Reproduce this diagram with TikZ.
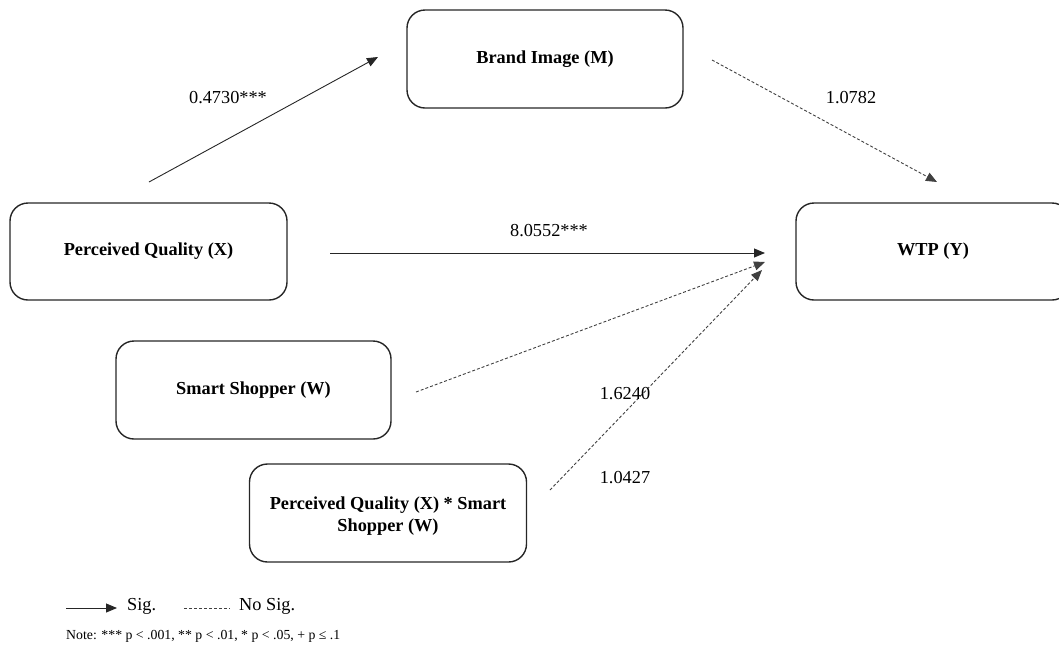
\documentclass[tikz,border=0pt]{standalone}
\usepackage{fontspec}
\setmainfont{Liberation Serif}
\usetikzlibrary{arrows.meta}
\begin{document}
\begin{tikzpicture}[x=1pt,y=-1pt,
  box/.style={draw=black!85,line width=1.4pt,rounded corners=18pt,align=center,
    font=\fontsize{18.3}{22}\selectfont\bfseries,inner sep=0pt},
  sigarrow/.style={line width=0.9pt,draw=black!85,-{Triangle[length=11pt,width=9pt]}},
  nsline/.style={line width=0.9pt,draw=black!75,dash pattern=on 3pt off 2pt},
  nsarrow/.style={nsline,-{Triangle[length=11pt,width=9pt]}},
  lbl/.style={font=\fontsize{18.3}{21}\selectfont,inner sep=0pt},
  note/.style={font=\fontsize{13.8}{16}\selectfont,inner sep=0pt,anchor=west}]
\useasboundingbox (0,0) rectangle (1059,646);
\begin{scope}
\clip (0,0) rectangle (1059,646);
\node[box,minimum width=276pt,minimum height=98pt] (M) at (545,59) {Brand Image (M)};
\node[box,minimum width=277pt,minimum height=97pt] (X) at (148.5,251.5) {Perceived Quality (X)};
\node[box,minimum width=274pt,minimum height=97pt] (Y) at (933,251.5) {WTP (Y)};
\node[box,minimum width=275pt,minimum height=98pt] (W) at (253.5,390) {Smart Shopper (W)};
\node[box,minimum width=277pt,minimum height=98pt] (XW) at (388,513) {};
\node[font=\fontsize{18.3}{22}\selectfont\bfseries,align=center,inner sep=0pt] (XWt) at (388,516) {Perceived Quality (X) * Smart\\Shopper (W)};
\end{scope}

\coordinate (xm1) at (149,182);
\coordinate (xm2) at (378,57);
\coordinate (my1) at (712,60);
\coordinate (my2) at (937,182);
\coordinate (xy1) at (330,253);
\coordinate (xy2) at (765,253);
\coordinate (wy1) at (416,392);
\coordinate (wy2) at (765,262);
\coordinate (iy1) at (550,490);
\coordinate (iy2) at (762,270);

\draw[sigarrow] (xm1) -- (xm2);
\draw[nsarrow] (my1) -- (my2);
\draw[sigarrow] (xy1) -- (xy2);
\draw[nsarrow] (wy1) -- (wy2);
\draw[nsarrow] (iy1) -- (iy2);

\node[lbl] (l1) at (228,98) {0.4730***};
\node[lbl] (l2) at (851,98) {1.0782};
\node[lbl] (l3) at (549,231) {8.0552***};
\node[lbl] (l4) at (625,394) {1.6240};
\node[lbl] (l5) at (625,478) {1.0427};

\coordinate (s1) at (66,608);
\coordinate (s2) at (117,608);
\draw[sigarrow] (s1) -- (s2);
\node[lbl,anchor=west] (sig) at (127,606) {Sig.};
\coordinate (n1) at (184,608);
\coordinate (n2) at (230,608);
\draw[nsline] (n1) -- (n2);
\node[lbl,anchor=west] (nosig) at (239,606) {No Sig.};
\node[note] (nt) at (66,636) {Note: *** p < .001, ** p < .01, * p < .05, + p ≤ .1};
\end{tikzpicture}
\end{document}
